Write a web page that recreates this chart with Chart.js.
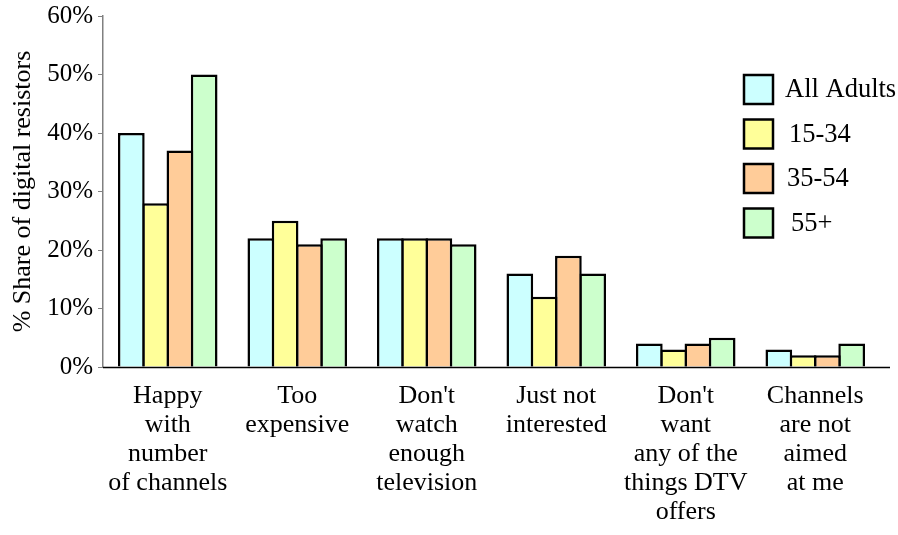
<!DOCTYPE html>
<html>
<head>
<meta charset="utf-8">
<script src="https://cdn.jsdelivr.net/npm/chart.js@4.4.1/dist/chart.umd.min.js"></script>
<style>
  html, body { margin: 0; padding: 0; background: #ffffff; }
  #wrap { width: 898px; height: 535px; position: relative; }
</style>
</head>
<body>
<div id="wrap"><canvas id="chart"></canvas></div>
<script>
// Reasons given for not adopting digital TV, by age group (% share)
const categories = [
  ["Happy", "with", "number", "of channels"],
  ["Too", "expensive"],
  ["Don't", "watch", "enough", "television"],
  ["Just not", "interested"],
  ["Don't", "want", "any of the", "things DTV", "offers"],
  ["Channels", "are not", "aimed", "at me"]
];
const seriesNames = ["All Adults", "15-34", "35-54", "55+"];
const allAdults = [40, 22, 22, 16, 4, 3];
const age15to34 = [28, 25, 22, 12, 3, 2];
const age35to54 = [37, 21, 22, 19, 4, 2];
const age55plus = [50, 22, 21, 16, 5, 4];
const yTicks = [0, 10, 20, 30, 40, 50, 60];

const fills = ["#ccffff", "#ffff99", "#ffcc99", "#ccffcc"];
const serif = "'Liberation Serif', 'Times New Roman', serif";

const seriesValues = [allAdults, age15to34, age35to54, age55plus];
const datasets = seriesNames.map((name, i) => ({
  label: name,
  data: seriesValues[i],
  backgroundColor: fills[i],
  borderColor: "#000000",
  borderWidth: 2.5,
  borderSkipped: "bottom"
}));

// Legend panel drawn inside the plot on the right
const legendPanel = {
  id: "legendPanel",
  afterDraw(chart) {
    const ctx = chart.ctx;
    const x0 = 744, y0 = 75, box = 29, step = 44.5;
    const textX = [785, 789, 787, 791];
    ctx.save();
    ctx.font = "26.5px " + serif;
    ctx.textBaseline = "middle";
    chart.data.datasets.forEach((ds, i) => {
      const y = y0 + i * step;
      ctx.fillStyle = ds.backgroundColor;
      ctx.fillRect(x0, y, box, box);
      ctx.lineWidth = 2.5;
      ctx.strokeStyle = "#000";
      ctx.strokeRect(x0, y, box, box);
      ctx.fillStyle = "#000";
      ctx.fillText(ds.label, textX[i], y + box / 2 + 1);
    });
    ctx.restore();
  }
};

// Baseline that runs a little past the last category
const baseline = {
  id: "baseline",
  afterDatasetsDraw(chart) {
    const ctx = chart.ctx;
    const a = chart.chartArea;
    ctx.save();
    ctx.strokeStyle = "#000";
    ctx.lineWidth = 1.5;
    ctx.beginPath();
    ctx.moveTo(a.left, a.bottom + 0.5);
    ctx.lineTo(a.right + 10, a.bottom + 0.5);
    ctx.stroke();
    ctx.restore();
  }
};

new Chart(document.getElementById("chart"), {
  type: "bar",
  data: { labels: categories, datasets },
  plugins: [legendPanel, baseline],
  options: {
    responsive: true,
    maintainAspectRatio: false,
    animation: false,
    layout: { padding: { left: 0, right: 18, top: 16, bottom: 0 } },
    plugins: {
      legend: { display: false },
      tooltip: { enabled: false }
    },
    datasets: {
      // bars of one group overlap by a border width so neighbours share an edge
      bar: { categoryPercentage: 0.75, barPercentage: 1.1 }
    },
    scales: {
      x: {
        afterFit(scale) { scale.height = 168; },
        grid: { display: false, drawTicks: false },
        border: { display: false },
        ticks: {
          color: "#000",
          font: { family: serif, size: 26, lineHeight: 1.115 },
          padding: 15,
          maxRotation: 0,
          autoSkip: false
        }
      },
      y: {
        min: 0,
        max: 60,
        afterBuildTicks(scale) {
          scale.ticks = yTicks.map(v => ({ value: v }));
        },
        afterFit(scale) {
          scale.width = 103;
          scale.paddingTop = 0;
          scale.paddingBottom = 0;
        },
        grid: { drawOnChartArea: false, drawTicks: true, tickLength: 5, color: "#808080" },
        border: { display: true, color: "#808080", width: 1.5 },
        ticks: {
          color: "#000",
          font: { family: serif, size: 25 },
          padding: 5,
          callback: v => v + "%"
        },
        title: {
          display: true,
          text: "% Share of digital resistors",
          color: "#000",
          font: { family: serif, size: 26 },
          padding: { top: 8, bottom: 0 }
        }
      }
    }
  }
});
</script>
</body>
</html>
